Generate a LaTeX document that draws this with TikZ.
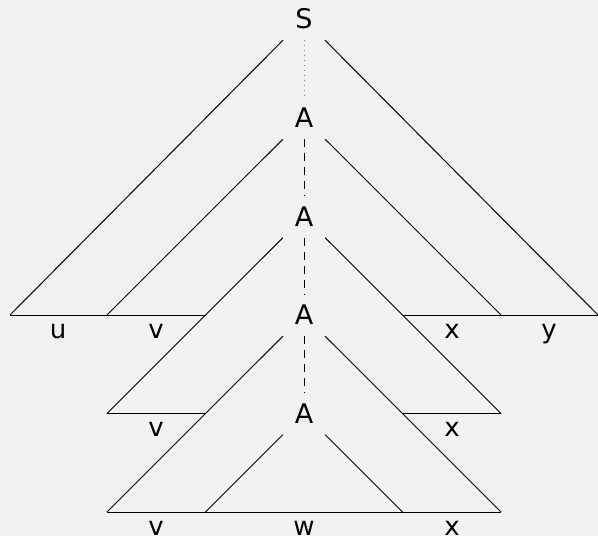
\documentclass[tikz,border=0pt]{standalone}
\usepackage{fontspec}
\setmainfont{DejaVu Sans}
\begin{document}
\begin{tikzpicture}[x=1pt,y=-1pt,
  sym/.style={rectangle,minimum width=44pt,minimum height=42pt,inner sep=0pt,font=\fontsize{27}{32}\selectfont},
  lbl/.style={anchor=base,inner sep=0pt,font=\fontsize{26}{31}\selectfont},
  edge/.style={line width=1pt,black},
  dashlink/.style={line width=1pt,dash pattern=on 8pt off 6pt},
  dotlink/.style={line width=1pt,dash pattern=on 0.8pt off 4.2pt,gray}]
\fill[fill={rgb,255:red,242;green,242;blue,242}] (0,0) rectangle (598,536);
\useasboundingbox (0,0) rectangle (598,536);
% symbols
\node[sym] (S)  at (304,19) {S};
\node[sym] (A1) at (304,118) {A};
\node[sym] (A2) at (304,216.5) {A};
\node[sym] (A3) at (304,315) {A};
\node[sym] (A4) at (304,413.5) {A};
% base coordinates
\coordinate (s1) at (10,315);
\coordinate (s2) at (598,315);
\coordinate (a1l) at (107,315);
\coordinate (a1r) at (501,315);
\coordinate (a2l) at (107,413.5);
\coordinate (a2r) at (501,413.5);
\coordinate (a3l) at (107,512);
\coordinate (a3r) at (501,512);
\coordinate (a4l) at (205.5,512);
\coordinate (a4r) at (402.5,512);
\coordinate (c1l) at (205.5,315);
\coordinate (c1r) at (402.5,315);
\coordinate (c2l) at (205.5,413.5);
\coordinate (c2r) at (402.5,413.5);
% triangle sides
\draw[edge] (S) -- (s1);
\draw[edge] (S) -- (s2);
\draw[edge] (A1) -- (a1l);
\draw[edge] (A1) -- (a1r);
\draw[edge] (A2) -- (a2l);
\draw[edge] (A2) -- (a2r);
\draw[edge] (A3) -- (a3l);
\draw[edge] (A3) -- (a3r);
\draw[edge] (A4) -- (a4l);
\draw[edge] (A4) -- (a4r);
% bases
\draw[edge] (s1) -- (c1l);
\draw[edge] (c1r) -- (s2);
\draw[edge] (a2l) -- (c2l);
\draw[edge] (c2r) -- (a2r);
\draw[edge] (a3l) -- (a3r);
% vertical links
\draw[dotlink] (S) -- (A1);
\draw[dashlink] (A1) -- (A2);
\draw[dashlink] (A2) -- (A3);
\draw[dashlink] (A3) -- (A4);
% labels
\node[lbl] (lu) at (58,338) {u};
\node[lbl] (lv1) at (156,338) {v};
\node[lbl] (lx1) at (452,338) {x};
\node[lbl] (ly) at (549,338) {y};
\node[lbl] (lv2) at (156,436.5) {v};
\node[lbl] (lx2) at (452,436.5) {x};
\node[lbl] (lv3) at (156,535) {v};
\node[lbl] (lw) at (304,535) {w};
\node[lbl] (lx3) at (452,535) {x};
\end{tikzpicture}
\end{document}
